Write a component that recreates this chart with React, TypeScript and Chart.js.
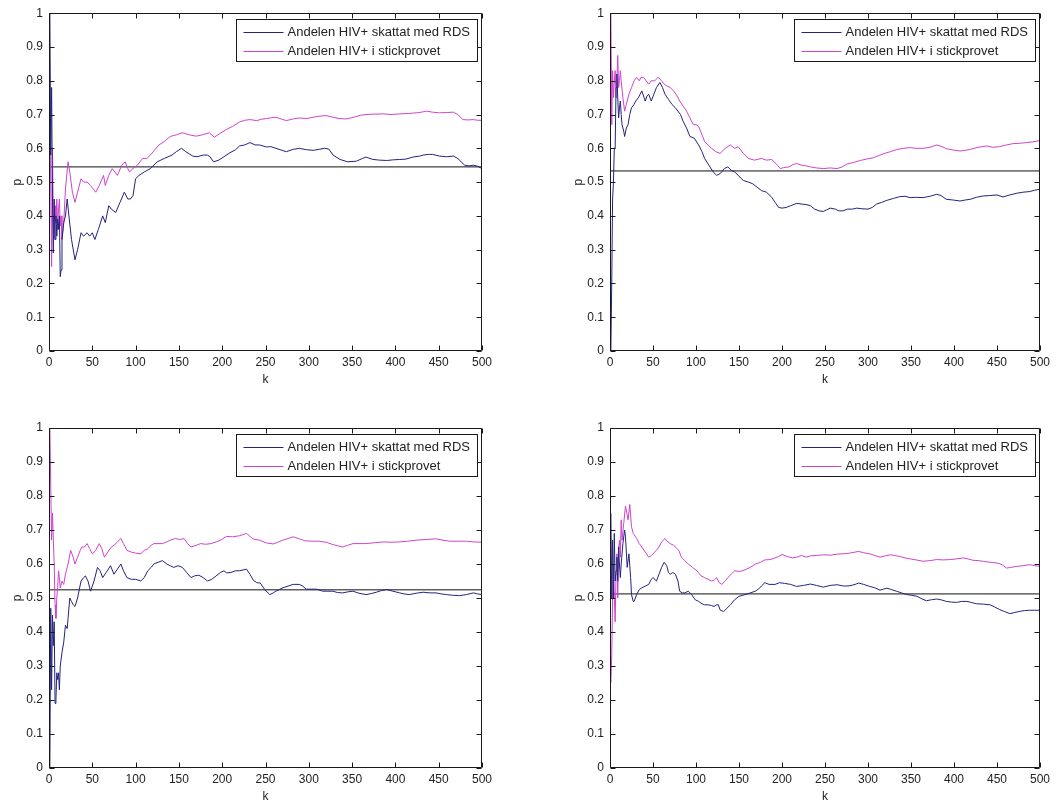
import React, { useEffect, useRef } from 'react';
import { Chart, registerables } from 'chart.js';

Chart.register(...registerables);

// ---------- shared ----------
const X_TICKS = [0, 50, 100, 150, 200, 250, 300, 350, 400, 450, 500];
const Y_TICKS = [0, 0.1, 0.2, 0.3, 0.4, 0.5, 0.6, 0.7, 0.8, 0.9, 1];
const LABEL_RDS = 'Andelen HIV+ skattat med RDS';
const LABEL_SAMPLE = 'Andelen HIV+ i stickprovet';
const X_TITLE = 'k';
const Y_TITLE = 'p';

// ---------- panel 1 (top left) ----------
const TL_RDS_K = [1, 2, 3, 4, 5, 6, 7, 8, 9, 10, 11, 12, 13, 14, 15, 17, 19, 21, 23, 26, 30, 33, 37, 40, 44, 47, 50, 53, 57, 62, 65, 69, 72, 77, 82, 87, 91, 94, 97, 100, 104, 110, 117, 125, 133, 142, 147, 153, 158, 166, 171, 178, 183, 186, 190, 196, 202, 209, 215, 220, 226, 232, 238, 243, 251, 256, 262, 268, 274, 282, 289, 297, 305, 312, 318, 323, 328, 336, 345, 355, 362, 366, 374, 382, 390, 398, 405, 412, 420, 428, 432, 438, 443, 451, 459, 467, 472, 476, 480, 485, 490, 495, 500];
const TL_RDS_P = [1.0, 0.58, 0.78, 0.45, 0.29, 0.45, 0.33, 0.40, 0.34, 0.39, 0.36, 0.40, 0.22, 0.24, 0.33, 0.38, 0.40, 0.45, 0.40, 0.33, 0.27, 0.30, 0.35, 0.34, 0.35, 0.34, 0.35, 0.33, 0.36, 0.40, 0.38, 0.43, 0.42, 0.41, 0.44, 0.47, 0.45, 0.45, 0.46, 0.51, 0.52, 0.53, 0.54, 0.56, 0.57, 0.58, 0.59, 0.60, 0.59, 0.577, 0.575, 0.58, 0.58, 0.575, 0.56, 0.565, 0.575, 0.587, 0.595, 0.607, 0.61, 0.617, 0.61, 0.61, 0.604, 0.605, 0.60, 0.595, 0.59, 0.597, 0.60, 0.596, 0.594, 0.597, 0.60, 0.598, 0.58, 0.567, 0.56, 0.562, 0.57, 0.574, 0.567, 0.565, 0.564, 0.566, 0.567, 0.568, 0.574, 0.577, 0.58, 0.582, 0.582, 0.577, 0.575, 0.577, 0.57, 0.56, 0.55, 0.548, 0.55, 0.547, 0.54];
const TL_SMP_K = [1, 2, 3, 4, 5, 6, 7, 8, 9, 10, 11, 12, 13, 14, 15, 17, 19, 22, 24, 27, 30, 33, 37, 40, 44, 48, 51, 54, 58, 63, 65, 69, 73, 76, 79, 84, 88, 91, 93, 97, 102, 108, 113, 117, 122, 127, 133, 140, 147, 154, 162, 170, 177, 185, 191, 198, 205, 212, 220, 226, 232, 240, 245, 251, 256, 262, 268, 274, 282, 289, 297, 305, 312, 320, 328, 335, 343, 352, 360, 366, 375, 386, 395, 405, 415, 424, 430, 436, 443, 451, 459, 467, 472, 478, 484, 490, 495, 500];
const TL_SMP_P = [0.67, 0.5, 0.25, 0.6, 0.4, 0.33, 0.43, 0.38, 0.45, 0.36, 0.42, 0.45, 0.37, 0.40, 0.33, 0.38, 0.48, 0.56, 0.53, 0.47, 0.44, 0.47, 0.51, 0.50, 0.50, 0.49, 0.48, 0.47, 0.49, 0.52, 0.49, 0.52, 0.54, 0.53, 0.52, 0.55, 0.56, 0.54, 0.53, 0.54, 0.55, 0.57, 0.57, 0.58, 0.595, 0.61, 0.62, 0.635, 0.64, 0.646, 0.64, 0.636, 0.64, 0.646, 0.633, 0.645, 0.656, 0.665, 0.678, 0.683, 0.685, 0.682, 0.686, 0.688, 0.69, 0.692, 0.687, 0.682, 0.687, 0.69, 0.688, 0.692, 0.695, 0.697, 0.692, 0.688, 0.687, 0.692, 0.698, 0.70, 0.701, 0.702, 0.70, 0.702, 0.703, 0.705, 0.707, 0.71, 0.707, 0.705, 0.706, 0.707, 0.70, 0.685, 0.684, 0.685, 0.683, 0.683];
const TL_TRUE = 0.545;

// ---------- panel 2 (top right) ----------
const TR_RDS_K = [1, 2, 3, 4, 5, 6, 7, 8, 9, 10, 11, 12, 13, 14, 16, 17, 19, 21, 23, 25, 28, 30, 33, 35, 37, 39, 41, 43, 45, 48, 51, 54, 58, 61, 64, 68, 72, 76, 79, 82, 85, 89, 93, 98, 103, 107, 110, 115, 120, 124, 128, 133, 137, 141, 145, 149, 155, 161, 166, 171, 176, 182, 188, 192, 196, 200, 205, 210, 217, 223, 229, 233, 238, 243, 248, 252, 256, 262, 266, 271, 276, 282, 287, 293, 300, 305, 310, 316, 322, 330, 337, 343, 349, 356, 364, 372, 380, 385, 391, 399, 407, 413, 419, 426, 434, 441, 450, 457, 465, 473, 480, 488, 494, 500];
const TR_RDS_P = [0.0, 0.2, 0.45, 0.5, 0.6, 0.6, 0.78, 0.82, 0.75, 0.69, 0.72, 0.74, 0.70, 0.67, 0.65, 0.635, 0.66, 0.67, 0.70, 0.72, 0.73, 0.74, 0.75, 0.76, 0.77, 0.755, 0.74, 0.755, 0.76, 0.74, 0.76, 0.78, 0.795, 0.78, 0.76, 0.745, 0.73, 0.72, 0.71, 0.70, 0.68, 0.66, 0.635, 0.63, 0.61, 0.59, 0.57, 0.55, 0.53, 0.52, 0.525, 0.54, 0.545, 0.535, 0.53, 0.52, 0.505, 0.50, 0.495, 0.485, 0.475, 0.47, 0.455, 0.44, 0.425, 0.423, 0.425, 0.43, 0.437, 0.435, 0.433, 0.43, 0.42, 0.415, 0.413, 0.418, 0.423, 0.42, 0.415, 0.415, 0.42, 0.42, 0.423, 0.421, 0.42, 0.425, 0.435, 0.44, 0.446, 0.452, 0.457, 0.458, 0.454, 0.455, 0.454, 0.458, 0.464, 0.46, 0.449, 0.447, 0.444, 0.447, 0.449, 0.455, 0.459, 0.46, 0.462, 0.456, 0.462, 0.467, 0.47, 0.472, 0.476, 0.479];
const TR_SMP_K = [1, 2, 3, 4, 5, 6, 7, 8, 9, 10, 11, 12, 13, 15, 17, 19, 22, 25, 28, 31, 34, 36, 39, 42, 45, 48, 52, 56, 60, 63, 66, 70, 74, 78, 81, 85, 89, 93, 97, 100, 103, 107, 110, 114, 118, 123, 128, 134, 140, 145, 149, 155, 161, 168, 176, 182, 188, 193, 198, 202, 208, 213, 217, 223, 228, 233, 240, 248, 256, 264, 270, 275, 283, 291, 298, 306, 312, 318, 326, 333, 341, 349, 356, 364, 372, 380, 386, 391, 399, 407, 413, 419, 428, 438, 445, 453, 461, 469, 477, 484, 492, 500];
const TR_SMP_P = [1.0, 0.67, 0.83, 0.75, 0.8, 0.83, 0.75, 0.80, 0.875, 0.78, 0.80, 0.83, 0.80, 0.75, 0.71, 0.73, 0.76, 0.78, 0.80, 0.81, 0.80, 0.81, 0.81, 0.80, 0.79, 0.80, 0.80, 0.81, 0.80, 0.79, 0.785, 0.78, 0.77, 0.755, 0.74, 0.725, 0.71, 0.69, 0.67, 0.67, 0.665, 0.64, 0.62, 0.61, 0.60, 0.59, 0.585, 0.60, 0.61, 0.60, 0.605, 0.585, 0.57, 0.565, 0.57, 0.565, 0.567, 0.555, 0.54, 0.543, 0.545, 0.552, 0.555, 0.55, 0.548, 0.545, 0.542, 0.54, 0.542, 0.54, 0.545, 0.553, 0.558, 0.564, 0.568, 0.572, 0.578, 0.584, 0.59, 0.596, 0.60, 0.602, 0.60, 0.60, 0.603, 0.61, 0.605, 0.599, 0.595, 0.592, 0.594, 0.597, 0.603, 0.607, 0.603, 0.605, 0.61, 0.614, 0.615, 0.617, 0.619, 0.623];
const TR_TRUE = 0.533;

// ---------- panel 3 (bottom left) ----------
const BL_RDS_K = [1, 2, 3, 4, 5, 6, 7, 8, 9, 10, 11, 12, 13, 15, 17, 19, 21, 22, 24, 26, 28, 30, 33, 37, 40, 42, 45, 48, 52, 56, 59, 62, 66, 71, 75, 79, 83, 86, 90, 95, 100, 106, 110, 114, 118, 121, 126, 131, 136, 140, 144, 149, 154, 159, 164, 168, 173, 178, 183, 188, 194, 198, 202, 205, 210, 215, 220, 225, 228, 232, 236, 240, 244, 249, 255, 259, 262, 266, 270, 276, 282, 289, 293, 297, 303, 309, 316, 322, 328, 333, 339, 345, 351, 358, 366, 372, 378, 384, 390, 397, 405, 410, 416, 424, 432, 440, 447, 453, 459, 466, 474, 482, 490, 495, 500];
const BL_RDS_P = [0.0, 0.47, 0.23, 0.45, 0.36, 0.43, 0.19, 0.20, 0.28, 0.26, 0.28, 0.23, 0.30, 0.34, 0.37, 0.42, 0.41, 0.44, 0.50, 0.49, 0.48, 0.475, 0.50, 0.55, 0.56, 0.565, 0.55, 0.52, 0.55, 0.59, 0.58, 0.56, 0.575, 0.595, 0.57, 0.585, 0.60, 0.58, 0.56, 0.555, 0.555, 0.55, 0.56, 0.58, 0.59, 0.60, 0.605, 0.61, 0.60, 0.595, 0.59, 0.595, 0.59, 0.575, 0.56, 0.565, 0.567, 0.56, 0.55, 0.555, 0.567, 0.575, 0.58, 0.574, 0.575, 0.58, 0.58, 0.583, 0.585, 0.57, 0.552, 0.545, 0.544, 0.525, 0.51, 0.515, 0.52, 0.525, 0.53, 0.535, 0.54, 0.54, 0.535, 0.526, 0.526, 0.526, 0.52, 0.52, 0.52, 0.516, 0.515, 0.518, 0.52, 0.514, 0.51, 0.513, 0.517, 0.522, 0.525, 0.52, 0.515, 0.512, 0.51, 0.514, 0.517, 0.515, 0.515, 0.512, 0.51, 0.508, 0.507, 0.51, 0.515, 0.512, 0.51];
const BL_SMP_K = [1, 2, 3, 4, 5, 6, 7, 8, 9, 10, 11, 12, 13, 15, 17, 19, 22, 25, 28, 30, 33, 36, 38, 41, 44, 47, 50, 54, 58, 61, 64, 68, 72, 75, 79, 83, 86, 90, 95, 100, 106, 110, 114, 118, 121, 126, 131, 136, 140, 146, 151, 156, 160, 164, 170, 175, 181, 187, 193, 198, 205, 212, 220, 228, 232, 235, 243, 251, 259, 265, 270, 276, 282, 289, 296, 305, 312, 320, 328, 334, 339, 345, 351, 358, 366, 374, 386, 395, 405, 414, 424, 435, 447, 455, 463, 472, 482, 490, 500];
const BL_SMP_P = [1.0, 0.83, 0.67, 0.75, 0.67, 0.60, 0.48, 0.44, 0.50, 0.53, 0.58, 0.56, 0.53, 0.55, 0.54, 0.57, 0.60, 0.64, 0.62, 0.60, 0.62, 0.64, 0.65, 0.65, 0.66, 0.645, 0.63, 0.64, 0.66, 0.645, 0.62, 0.635, 0.65, 0.655, 0.665, 0.675, 0.66, 0.64, 0.635, 0.632, 0.63, 0.64, 0.645, 0.655, 0.66, 0.66, 0.66, 0.665, 0.67, 0.675, 0.672, 0.675, 0.66, 0.65, 0.655, 0.66, 0.658, 0.66, 0.665, 0.67, 0.681, 0.68, 0.683, 0.69, 0.682, 0.674, 0.67, 0.662, 0.659, 0.665, 0.67, 0.675, 0.68, 0.674, 0.668, 0.667, 0.667, 0.664, 0.657, 0.653, 0.65, 0.655, 0.66, 0.66, 0.66, 0.662, 0.665, 0.664, 0.665, 0.667, 0.67, 0.672, 0.674, 0.67, 0.667, 0.667, 0.667, 0.665, 0.664];
const BL_TRUE = 0.524;

// ---------- panel 4 (bottom right) ----------
const BR_RDS_K = [1, 2, 3, 4, 5, 6, 7, 8, 9, 10, 11, 12, 13, 15, 17, 18, 20, 22, 24, 25, 27, 28, 31, 34, 37, 41, 45, 48, 50, 54, 57, 60, 63, 66, 68, 70, 73, 76, 79, 81, 84, 87, 91, 95, 99, 103, 107, 110, 114, 118, 121, 124, 126, 128, 132, 136, 140, 145, 150, 157, 163, 169, 173, 176, 180, 185, 192, 197, 203, 210, 217, 225, 233, 240, 248, 256, 264, 272, 279, 285, 289, 295, 302, 308, 314, 318, 322, 327, 333, 339, 345, 351, 357, 363, 368, 374, 380, 386, 391, 397, 403, 409, 415, 420, 426, 434, 442, 447, 453, 459, 465, 470, 477, 482, 488, 494, 500];
const BR_RDS_P = [0.75, 0.5, 0.67, 0.5, 0.69, 0.55, 0.58, 0.62, 0.55, 0.65, 0.6, 0.56, 0.6, 0.66, 0.70, 0.68, 0.59, 0.63, 0.56, 0.51, 0.49, 0.49, 0.51, 0.525, 0.53, 0.535, 0.54, 0.555, 0.56, 0.55, 0.57, 0.59, 0.605, 0.595, 0.575, 0.57, 0.575, 0.57, 0.55, 0.52, 0.515, 0.515, 0.52, 0.51, 0.495, 0.49, 0.483, 0.48, 0.48, 0.478, 0.475, 0.48, 0.48, 0.465, 0.46, 0.47, 0.48, 0.495, 0.505, 0.51, 0.515, 0.52, 0.527, 0.535, 0.545, 0.54, 0.54, 0.545, 0.543, 0.54, 0.534, 0.537, 0.541, 0.537, 0.532, 0.537, 0.539, 0.535, 0.536, 0.54, 0.544, 0.54, 0.534, 0.53, 0.523, 0.526, 0.529, 0.525, 0.52, 0.515, 0.51, 0.508, 0.505, 0.497, 0.492, 0.495, 0.497, 0.494, 0.49, 0.488, 0.487, 0.49, 0.49, 0.487, 0.483, 0.482, 0.48, 0.474, 0.466, 0.46, 0.454, 0.457, 0.461, 0.463, 0.464, 0.464, 0.464];
const BR_SMP_K = [1, 2, 3, 4, 5, 6, 7, 8, 9, 10, 11, 12, 13, 14, 16, 18, 20, 21, 23, 25, 27, 31, 34, 37, 41, 45, 48, 50, 54, 57, 60, 64, 66, 70, 74, 78, 80, 83, 87, 91, 96, 101, 106, 110, 114, 118, 121, 124, 127, 130, 134, 137, 141, 145, 151, 157, 163, 169, 175, 180, 186, 191, 196, 200, 206, 212, 217, 223, 228, 233, 240, 248, 256, 264, 272, 279, 285, 289, 295, 302, 308, 314, 320, 326, 331, 337, 343, 349, 356, 364, 372, 380, 388, 395, 403, 411, 416, 422, 428, 434, 442, 450, 456, 461, 466, 473, 480, 488, 494, 500];
const BR_SMP_P = [0.25, 0.33, 0.5, 0.6, 0.5, 0.43, 0.57, 0.63, 0.5, 0.64, 0.67, 0.62, 0.73, 0.67, 0.72, 0.77, 0.745, 0.73, 0.775, 0.71, 0.69, 0.675, 0.66, 0.65, 0.635, 0.62, 0.625, 0.63, 0.64, 0.65, 0.665, 0.675, 0.668, 0.66, 0.655, 0.645, 0.64, 0.62, 0.61, 0.60, 0.59, 0.58, 0.565, 0.56, 0.555, 0.55, 0.552, 0.56, 0.545, 0.54, 0.55, 0.56, 0.57, 0.58, 0.578, 0.583, 0.59, 0.60, 0.605, 0.612, 0.613, 0.617, 0.622, 0.628, 0.622, 0.618, 0.62, 0.625, 0.62, 0.624, 0.625, 0.627, 0.626, 0.629, 0.63, 0.632, 0.635, 0.637, 0.633, 0.63, 0.625, 0.62, 0.624, 0.627, 0.625, 0.622, 0.618, 0.615, 0.612, 0.608, 0.61, 0.613, 0.612, 0.613, 0.615, 0.618, 0.615, 0.611, 0.61, 0.608, 0.605, 0.603, 0.598, 0.588, 0.59, 0.593, 0.595, 0.598, 0.595, 0.593];
const BR_TRUE = 0.512;

// ---------- styling ----------
const BLUE = '#23237e';
const MAGENTA = '#cc44cc';
const TRUE_COLOR = '#111111';
const AXIS_COLOR = '#1a1a1a';
const TEXT_COLOR = '#222222';
const FONT_FAMILY = '"Liberation Sans", Arial, Helvetica, sans-serif';
const Y_AXIS_W = 49;

const matlabFrame = {
  id: 'matlabFrame',
  afterDatasetsDraw(chart: any) {
    const { ctx, chartArea: a, scales } = chart;
    const xs = scales.x;
    const ys = scales.y;
    const L = Math.round(a.left) + 0.5;
    const R = Math.round(a.right) - 0.5;
    const T = Math.round(a.top) + 0.5;
    const B = Math.round(a.bottom) - 0.5;
    ctx.save();
    ctx.strokeStyle = AXIS_COLOR;
    ctx.lineWidth = 1;
    ctx.beginPath();
    ctx.rect(L, T, R - L, B - T);
    ctx.stroke();
    const tl = 5;
    ctx.beginPath();
    for (const v of X_TICKS) {
      const px = Math.round(xs.getPixelForValue(v)) + 0.5;
      ctx.moveTo(px, B);
      ctx.lineTo(px, B - tl);
      ctx.moveTo(px, T);
      ctx.lineTo(px, T + tl);
    }
    for (const v of Y_TICKS) {
      const py = Math.round(ys.getPixelForValue(v)) + 0.5;
      ctx.moveTo(L, py);
      ctx.lineTo(L + tl, py);
      ctx.moveTo(R, py);
      ctx.lineTo(R - tl, py);
    }
    ctx.stroke();

    // legend box (top right inside the axes)
    const items = chart.data.datasets.filter((d: any) => d.label);
    const w = 241;
    const h = 42;
    const lx = Math.round(a.right) - 5 - w + 0.5;
    const ly = Math.round(a.top) + 6 + 0.5;
    ctx.fillStyle = '#ffffff';
    ctx.fillRect(lx, ly, w, h);
    ctx.strokeStyle = AXIS_COLOR;
    ctx.strokeRect(lx, ly, w, h);
    ctx.font = `13px ${FONT_FAMILY}`;
    ctx.textBaseline = 'middle';
    ctx.textAlign = 'left';
    items.forEach((d: any, i: number) => {
      const yy = Math.round(ly + 12 + i * 19) + 0.5;
      ctx.strokeStyle = d.borderColor;
      ctx.lineWidth = 1;
      ctx.beginPath();
      ctx.moveTo(lx + 7, yy);
      ctx.lineTo(lx + 47, yy);
      ctx.stroke();
      ctx.fillStyle = TEXT_COLOR;
      ctx.fillText(d.label, lx + 51, yy);
    });
    ctx.restore();
  },
};

type PanelProps = {
  left: number;
  top: number;
  width: number;
  height: number;
  area: { left: number; top: number; right: number; bottom: number };
  rdsK: number[];
  rdsP: number[];
  smpK: number[];
  smpP: number[];
  truth: number;
};

function Panel(props: PanelProps) {
  const ref = useRef<HTMLCanvasElement>(null);
  const { left, top, width, height, area, rdsK, rdsP, smpK, smpP, truth } = props;
  useEffect(() => {
    if (!ref.current) return;
    const xH = height - area.bottom;
    const font = { family: FONT_FAMILY, size: 12 };
    const chart = new Chart(ref.current, {
      type: 'line',
      data: {
        datasets: [
          {
            label: LABEL_RDS,
            data: rdsK.map((k, i) => ({ x: k, y: rdsP[i] })),
            borderColor: BLUE,
            borderWidth: 1,
            pointRadius: 0,
            tension: 0,
          },
          {
            label: LABEL_SAMPLE,
            data: smpK.map((k, i) => ({ x: k, y: smpP[i] })),
            borderColor: MAGENTA,
            borderWidth: 1,
            pointRadius: 0,
            tension: 0,
          },
          {
            label: '',
            data: [
              { x: X_TICKS[0], y: truth },
              { x: X_TICKS[X_TICKS.length - 1], y: truth },
            ],
            borderColor: TRUE_COLOR,
            borderWidth: 1,
            pointRadius: 0,
            tension: 0,
          },
        ],
      },
      options: {
        responsive: false,
        animation: false,
        events: [],
        layout: {
          padding: {
            left: area.left - Y_AXIS_W,
            top: area.top,
            right: width - area.right,
            bottom: 0,
          },
        },
        plugins: {
          legend: { display: false },
          tooltip: { enabled: false },
          title: { display: false },
        },
        scales: {
          x: {
            type: 'linear',
            min: 0,
            max: 500,
            afterFit: (s: any) => {
              s.height = xH;
            },
            afterBuildTicks: (s: any) => {
              s.ticks = X_TICKS.map((v) => ({ value: v }));
            },
            ticks: {
              autoSkip: false,
              maxRotation: 0,
              minRotation: 0,
              padding: 4,
              font,
              color: TEXT_COLOR,
              callback: (v: any) => String(v),
            },
            grid: { display: false, drawTicks: false },
            border: { display: false },
            title: {
              display: true,
              text: X_TITLE,
              font,
              color: TEXT_COLOR,
              padding: { top: 0, bottom: Math.max(xH - 29 - 7.2, 0) },
            },
          },
          y: {
            type: 'linear',
            min: 0,
            max: 1,
            afterFit: (s: any) => {
              s.width = Y_AXIS_W;
            },
            afterBuildTicks: (s: any) => {
              s.ticks = Y_TICKS.map((v) => ({ value: v }));
            },
            ticks: {
              autoSkip: false,
              padding: 6,
              font,
              color: TEXT_COLOR,
              callback: (v: any) => String(v),
            },
            grid: { display: false, drawTicks: false },
            border: { display: false },
            title: {
              display: true,
              text: Y_TITLE,
              font,
              color: TEXT_COLOR,
              padding: { top: Y_AXIS_W - 31 - 7.2, bottom: 0 },
            },
          },
        },
      } as any,
      plugins: [matlabFrame],
    });
    return () => chart.destroy();
  }, []);
  return (
    <canvas
      ref={ref}
      width={width}
      height={height}
      style={{ position: 'absolute', left, top, width, height, display: 'block' }}
    />
  );
}

export default function App() {
  return (
    <div
      style={{
        position: 'fixed',
        left: 0,
        top: 0,
        width: 1057,
        height: 807,
        overflow: 'hidden',
        background: '#ffffff',
      }}
    >
      <Panel
        left={0}
        top={0}
        width={528}
        height={400}
        area={{ left: 49, top: 12, right: 482, bottom: 351 }}
        rdsK={TL_RDS_K}
        rdsP={TL_RDS_P}
        smpK={TL_SMP_K}
        smpP={TL_SMP_P}
        truth={TL_TRUE}
      />
      <Panel
        left={528}
        top={0}
        width={529}
        height={400}
        area={{ left: 82, top: 12, right: 512, bottom: 351 }}
        rdsK={TR_RDS_K}
        rdsP={TR_RDS_P}
        smpK={TR_SMP_K}
        smpP={TR_SMP_P}
        truth={TR_TRUE}
      />
      <Panel
        left={0}
        top={395}
        width={528}
        height={412}
        area={{ left: 49, top: 33, right: 482, bottom: 373 }}
        rdsK={BL_RDS_K}
        rdsP={BL_RDS_P}
        smpK={BL_SMP_K}
        smpP={BL_SMP_P}
        truth={BL_TRUE}
      />
      <Panel
        left={528}
        top={395}
        width={529}
        height={412}
        area={{ left: 82, top: 33, right: 512, bottom: 373 }}
        rdsK={BR_RDS_K}
        rdsP={BR_RDS_P}
        smpK={BR_SMP_K}
        smpP={BR_SMP_P}
        truth={BR_TRUE}
      />
    </div>
  );
}
